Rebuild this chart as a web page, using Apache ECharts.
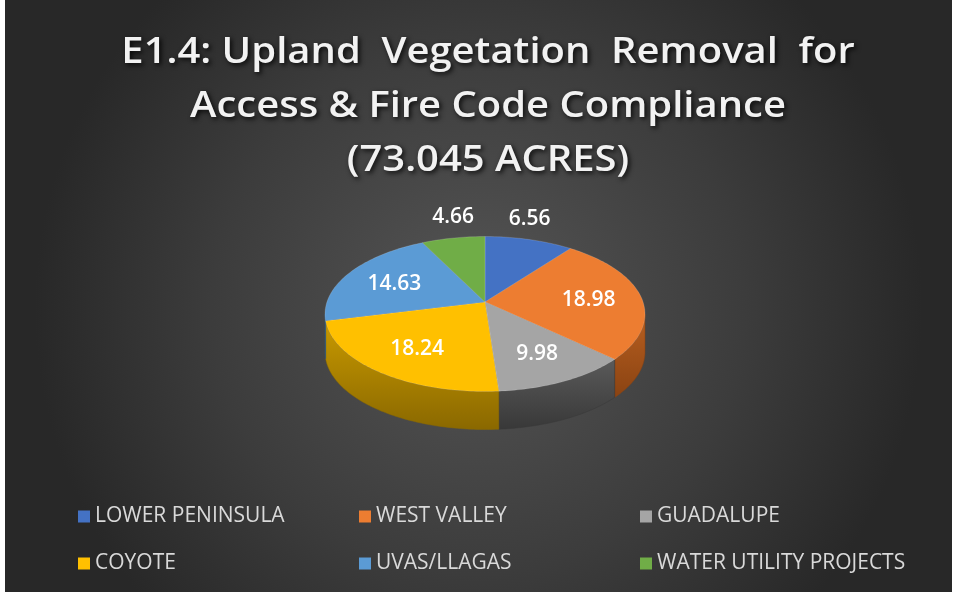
<!DOCTYPE html>
<html>
<head>
<meta charset="utf-8">
<script src="https://cdn.jsdelivr.net/npm/echarts@6/dist/echarts.min.js"></script>
<style>
html,body{margin:0;padding:0;background:#ffffff;}
#chart{position:absolute;left:5px;top:0;width:947px;height:592px;}
</style>
</head>
<body>
<div id="chart"></div>
<script>
// ---- data ----
const titleLines = ['E1.4: Upland  Vegetation  Removal  for', 'Access & Fire Code Compliance', '(73.045 ACRES)'];
const categories = ['LOWER PENINSULA', 'WEST VALLEY', 'GUADALUPE', 'COYOTE', 'UVAS/LLAGAS', 'WATER UTILITY PROJECTS'];
const values = [6.56, 18.98, 9.98, 18.24, 14.63, 4.66];
const colors = ['#4472C4', '#ED7D31', '#A5A5A5', '#FFC000', '#5B9BD5', '#70AD47'];
const sideColors = [['#35599a', '#243f6e'], ['#b85f20', '#8a4312'], ['#5a5a5a', '#383838'], ['#c99a00', '#8a6800'], ['#467aa8', '#2f5678'], ['#558a35', '#3a6122']];

// ---- geometry (style) ----
const CX = 480, CY = 314, RX = 160, RY = 77.5, APEX_Y = 302, DEPTH = 38;
const total = values.reduce((a, b) => a + b, 0);
const starts = [];
{ let c = 0; values.forEach(v => { starts.push(c / total * Math.PI * 2); c += v; }); }

function rim(t, dy) { return [CX + RX * Math.sin(t), CY - RY * Math.cos(t) + (dy || 0)]; }
function arcPts(a, b, dy) {
  const pts = []; const n = Math.max(2, Math.ceil((b - a) / 0.02));
  for (let i = 0; i <= n; i++) pts.push(rim(a + (b - a) * i / n, dy));
  return pts;
}

const chart = echarts.init(document.getElementById('chart'));

function sideItem(params, api) {
  const i = params.dataIndex;
  const a = starts[i], b = a + api.value(0) / total * Math.PI * 2;
  const s = Math.max(a, Math.PI / 2), e = Math.min(b, Math.PI * 1.5);
  if (e <= s) return null;
  const top = arcPts(s, e, 0);
  const bot = arcPts(s, e, DEPTH).reverse();
  return {
    type: 'polygon',
    shape: { points: top.concat(bot) },
    style: {
      fill: new echarts.graphic.LinearGradient(0, 0, 0, 1, [
        { offset: 0, color: sideColors[i][0] }, { offset: 1, color: sideColors[i][1] }
      ]),
      stroke: sideColors[i][1], lineWidth: 0.5
    }
  };
}

function topItem(params, api) {
  const i = params.dataIndex;
  const v = api.value(0);
  const a = starts[i], b = a + v / total * Math.PI * 2;
  const pts = [[CX, APEX_Y]].concat(arcPts(a, b, 0));
  const m = (a + b) / 2;
  const r = rim(m, 0);
  let lx, ly;
  if (v / total < 0.1) {
    lx = CX + (r[0] - CX) * 1.0; ly = r[1] - 21;
  } else {
    lx = CX + (r[0] - CX) * 0.66; ly = APEX_Y + (r[1] - APEX_Y) * 0.66;
  }
  return {
    type: 'group',
    children: [
      { type: 'polygon', shape: { points: pts }, style: { fill: colors[i], stroke: 'rgba(255,255,255,0.25)', lineWidth: 0.6 } },
      { type: 'text', x: lx, y: ly, z2: 10,
        style: { text: v.toFixed(2), fill: '#ffffff', font: '600 21px "Open Sans", sans-serif',
          align: 'center', verticalAlign: 'middle' } }
    ]
  };
}

const legendStyle = { color: '#d9d9d9', fontSize: 21, lineHeight: 21, fontFamily: '"Open Sans", sans-serif' };
function legendCol(names, left) {
  return { orient: 'vertical', left: left, top: 501, itemGap: 26, icon: 'rect', itemWidth: 12, itemHeight: 12,
    selectedMode: false, data: names, textStyle: legendStyle, itemStyle: { borderWidth: 0 } };
}

const option = {
  backgroundColor: {
    type: 'radial', x: 0.5, y: 0.52, r: 0.75,
    colorStops: [{ offset: 0, color: '#555555' }, { offset: 0.6, color: '#3c3c3c' }, { offset: 1, color: '#282828' }]
  },
  animation: false,
  legend: [
    legendCol([categories[0], categories[3]], 68),
    legendCol([categories[1], categories[4]], 349),
    legendCol([categories[2], categories[5]], 630)
  ],
  graphic: titleLines.map((t, k) => ({
    type: 'text', x: 483, y: 53 + k * 54, scaleX: 1.11,
    style: { text: t, fill: '#f2f2f2', font: '600 36px "Open Sans", sans-serif', align: 'center', verticalAlign: 'middle',
      textShadowColor: 'rgba(0,0,0,0.85)', textShadowBlur: 5, textShadowOffsetX: 2, textShadowOffsetY: 2 }
  })),
  series: [
    { type: 'pie', radius: [0, 0], center: [-100, -100], silent: true, label: { show: false }, labelLine: { show: false },
      data: categories.map((n, i) => ({ name: n, value: values[i], itemStyle: { color: colors[i] } })) },
    { type: 'custom', coordinateSystem: 'none', z: 2, silent: true, renderItem: sideItem,
      data: values.map((v, i) => ({ name: categories[i], value: [v] })) },
    { type: 'custom', coordinateSystem: 'none', z: 3, silent: true, renderItem: topItem,
      data: values.map((v, i) => ({ name: categories[i], value: [v] })) }
  ]
};
chart.setOption(option);
</script>
</body>
</html>
